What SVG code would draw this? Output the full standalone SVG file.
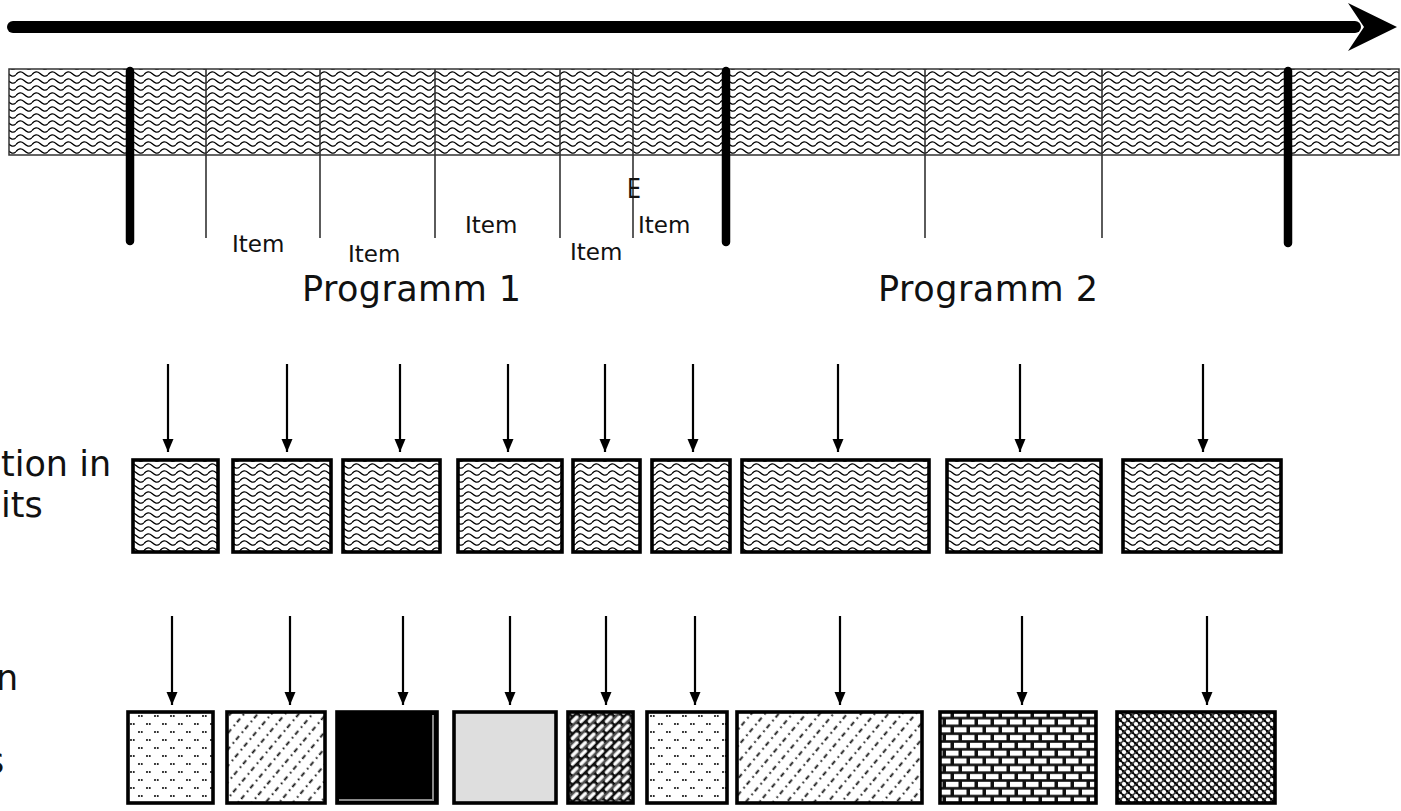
<svg xmlns="http://www.w3.org/2000/svg" width="1401" height="811" viewBox="0 0 1401 811">
<style>
.txt{font-family:"DejaVu Sans","Liberation Sans",sans-serif;fill:#111}
.big{font-size:35px}
.item{font-size:23px}
.thin{stroke:#333;stroke-width:1.6;fill:none}
.thick{stroke:#000;stroke-width:8.5;stroke-linecap:round;fill:none}
.box{stroke:#000;stroke-width:3.6}
.conn{stroke:#000;stroke-width:2.2;fill:none;marker-end:url(#ah)}
</style>
<defs>
<marker id="ah" markerUnits="userSpaceOnUse" markerWidth="14" markerHeight="16" refX="13" refY="6" orient="auto">
<path d="M0,0.5 L13,6 L0,11.5 Z" fill="#000"/>
</marker>
<pattern id="wave" patternUnits="userSpaceOnUse" width="16" height="7">
<rect width="16" height="7" fill="#fff"/>
<path d="M0,4.6 C2.5,1.2 5.5,1.2 8,3.5 S13.5,7.6 16,4.6" fill="none" stroke="#000" stroke-width="1.3"/>
</pattern>
<pattern id="dots" patternUnits="userSpaceOnUse" width="16" height="16">
<rect width="16" height="16" fill="#fff"/>
<g fill="#111"><circle cx="3" cy="4" r="1.05"/><circle cx="5.8" cy="4" r="1.05"/><circle cx="11" cy="12" r="1.05"/><circle cx="13.8" cy="12" r="1.05"/></g>
</pattern>
<pattern id="diag" patternUnits="userSpaceOnUse" width="14" height="10.5" patternTransform="rotate(-50)">
<rect width="14" height="10.5" fill="#fff"/>
<g fill="#111"><rect x="0" y="4.4" width="1.8" height="1.8"/><rect x="5" y="4.4" width="4.8" height="1.8"/></g>
</pattern>
<pattern id="weave" patternUnits="userSpaceOnUse" width="12" height="12" patternTransform="rotate(-45)">
<rect width="12" height="12" fill="#111"/>
<rect x="1" y="1.2" width="9.5" height="3.6" rx="1.6" fill="#fff"/>
<rect x="7" y="7.2" width="9.5" height="3.6" rx="1.6" fill="#fff"/>
<rect x="-5" y="7.2" width="9.5" height="3.6" rx="1.6" fill="#fff"/>
<line x1="0" y1="6" x2="12" y2="6" stroke="#888" stroke-width="1"/>
</pattern>
<pattern id="brick" patternUnits="userSpaceOnUse" width="16" height="15.6">
<rect width="16" height="15.6" fill="#111"/>
<rect x="2" y="1.8" width="12.5" height="5.2" fill="#fff"/>
<rect x="-6" y="9.6" width="12.5" height="5.2" fill="#fff"/>
<rect x="10" y="9.6" width="12.5" height="5.2" fill="#fff"/>
</pattern>
<pattern id="cross" patternUnits="userSpaceOnUse" width="8" height="8">
<rect width="8" height="8" fill="#777"/>
<path d="M0,0 L8,8 M-2,6 L2,10 M6,-2 L10,2" stroke="#000" stroke-width="2"/>
<path d="M8,0 L0,8" stroke="#333" stroke-width="1.4"/>
<circle cx="4" cy="0" r="2.1" fill="#fff"/><circle cx="4" cy="8" r="2.1" fill="#fff"/>
<circle cx="0" cy="4" r="2.1" fill="#fff"/><circle cx="8" cy="4" r="2.1" fill="#fff"/>
</pattern>
</defs>
<rect width="1401" height="811" fill="#fff"/>

<g id="timeline">
<line x1="13" y1="27" x2="1355" y2="27" stroke="#000" stroke-width="12" stroke-linecap="round"/>
<path d="M1348,3 L1397,27 L1348,51 L1364,27 Z" fill="#000"/>
</g>

<g id="strip">
<rect x="9" y="69" width="1390" height="86" fill="url(#wave)" stroke="#333" stroke-width="1.5"/>
<g class="thin">
<line x1="206" y1="69" x2="206" y2="238"/>
<line x1="320" y1="69" x2="320" y2="238"/>
<line x1="435" y1="69" x2="435" y2="238"/>
<line x1="560" y1="69" x2="560" y2="238"/>
<line x1="633" y1="69" x2="633" y2="238"/>
<line x1="925" y1="69" x2="925" y2="238"/>
<line x1="1102" y1="69" x2="1102" y2="238"/>
</g>
<g class="thick">
<line x1="130" y1="71" x2="130" y2="241"/>
<line x1="726" y1="71" x2="726" y2="242"/>
<line x1="1288" y1="71" x2="1288" y2="243"/>
</g>
<text class="txt" x="627" y="198" font-size="26" transform="translate(627 0) scale(0.85 1) translate(-627 0)">E</text>
<text class="txt item" x="232" y="252">Item</text>
<text class="txt item" x="348" y="262">Item</text>
<text class="txt item" x="465" y="233">Item</text>
<text class="txt item" x="570" y="260">Item</text>
<text class="txt item" x="638" y="233">Item</text>
<text class="txt big" x="302" y="301" textLength="219">Programm 1</text>
<text class="txt big" x="878" y="301" textLength="220">Programm 2</text>
</g>

<g id="labels">
<text class="txt big" x="1" y="476">tion in</text>
<text class="txt big" x="1" y="517">its</text>
<text class="txt big" x="-4" y="690">n</text>
<text class="txt big" x="-14" y="773">s</text>
</g>

<g id="units">
<rect x="133" y="460" width="85" height="92" fill="url(#wave)" class="box"/>
<rect x="233" y="460" width="98" height="92" fill="url(#wave)" class="box"/>
<rect x="343" y="460" width="97" height="92" fill="url(#wave)" class="box"/>
<rect x="458" y="460" width="104" height="92" fill="url(#wave)" class="box"/>
<rect x="573" y="460" width="67" height="92" fill="url(#wave)" class="box"/>
<rect x="652" y="460" width="78" height="92" fill="url(#wave)" class="box"/>
<rect x="742" y="460" width="187" height="92" fill="url(#wave)" class="box"/>
<rect x="947" y="460" width="154" height="92" fill="url(#wave)" class="box"/>
<rect x="1123" y="460" width="158" height="92" fill="url(#wave)" class="box"/>
</g>

<g id="encoded">
<rect x="128" y="712" width="85" height="91" fill="url(#dots)" class="box"/>
<rect x="227" y="712" width="98" height="91" fill="url(#diag)" class="box"/>
<rect x="337" y="712" width="100" height="91" fill="#000" class="box"/>
<path d="M339,800 L433,800 L433,715" fill="none" stroke="#8a8a8a" stroke-width="2"/>
<rect x="454" y="712" width="102" height="91" fill="#dedede" class="box"/>
<rect x="568" y="712" width="65" height="91" fill="url(#weave)" class="box"/>
<rect x="647" y="712" width="80" height="91" fill="url(#dots)" class="box"/>
<rect x="737" y="712" width="185" height="91" fill="url(#diag)" class="box"/>
<rect x="940" y="712" width="156" height="91" fill="url(#brick)" class="box"/>
<rect x="1117" y="712" width="158" height="91" fill="url(#cross)" class="box"/>
</g>

<g id="connectors">
<line class="conn" x1="168" y1="364" x2="168" y2="452"/>
<line class="conn" x1="287" y1="364" x2="287" y2="452"/>
<line class="conn" x1="400" y1="364" x2="400" y2="452"/>
<line class="conn" x1="508" y1="364" x2="508" y2="452"/>
<line class="conn" x1="605" y1="364" x2="605" y2="452"/>
<line class="conn" x1="693" y1="364" x2="693" y2="452"/>
<line class="conn" x1="838" y1="364" x2="838" y2="452"/>
<line class="conn" x1="1020" y1="364" x2="1020" y2="452"/>
<line class="conn" x1="1203" y1="364" x2="1203" y2="452"/>
<line class="conn" x1="172" y1="616" x2="172" y2="705"/>
<line class="conn" x1="290" y1="616" x2="290" y2="705"/>
<line class="conn" x1="403" y1="616" x2="403" y2="705"/>
<line class="conn" x1="510" y1="616" x2="510" y2="705"/>
<line class="conn" x1="606" y1="616" x2="606" y2="705"/>
<line class="conn" x1="695" y1="616" x2="695" y2="705"/>
<line class="conn" x1="840" y1="616" x2="840" y2="705"/>
<line class="conn" x1="1022" y1="616" x2="1022" y2="705"/>
<line class="conn" x1="1207" y1="616" x2="1207" y2="705"/>
</g>
</svg>
